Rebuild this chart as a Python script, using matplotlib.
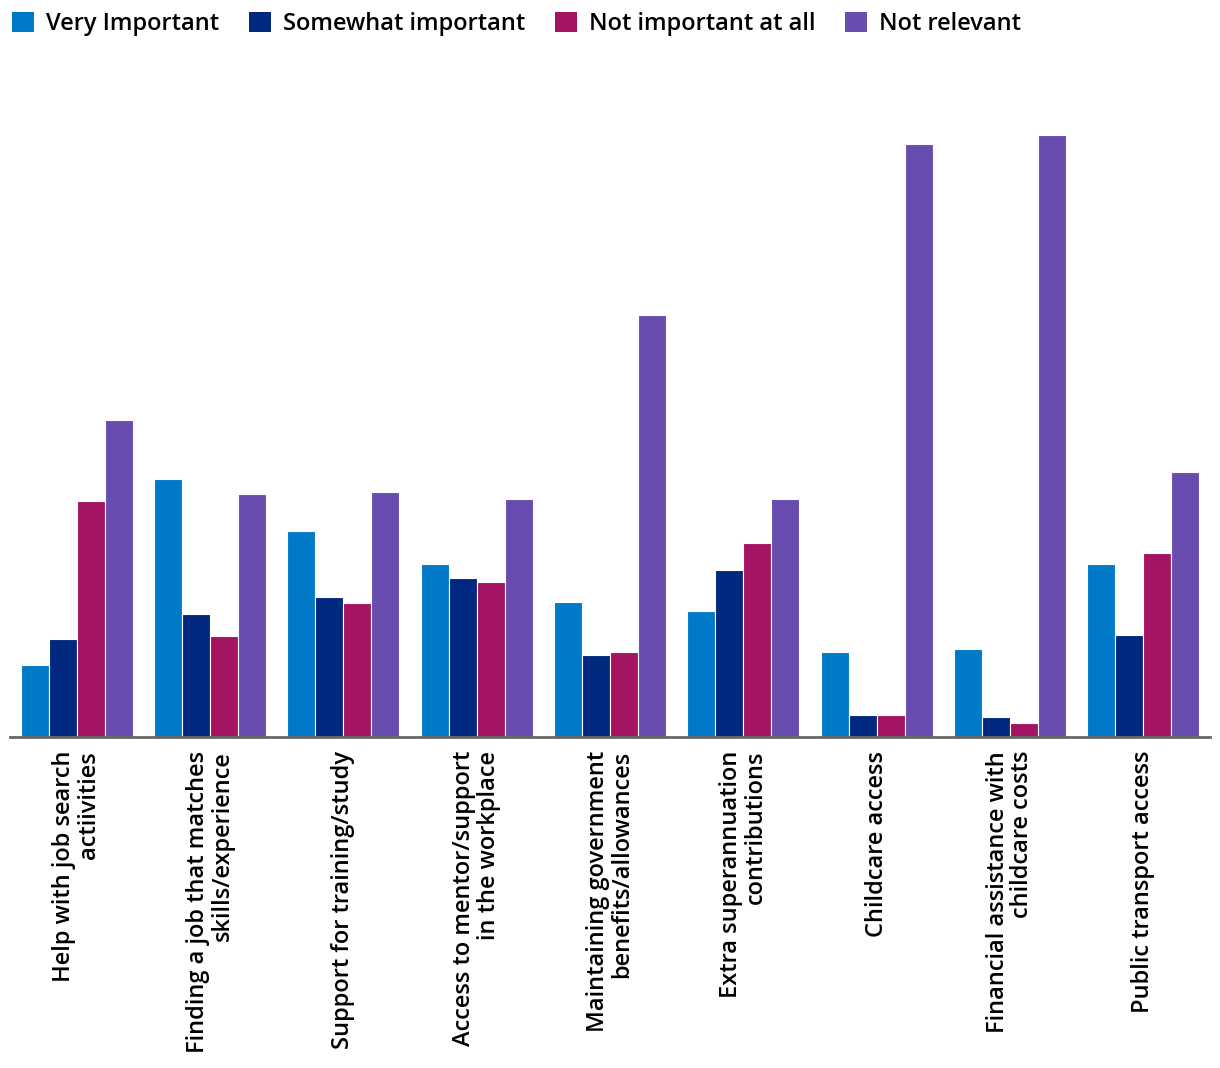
import matplotlib
matplotlib.use("Agg")
import matplotlib.pyplot as plt
from matplotlib.patches import Patch
import numpy as np

plt.rcParams["font.family"] = ["Open Sans", "DejaVu Sans"]

categories = [
    "Help with job search\nactiivities",
    "Finding a job that matches\nskills/experience",
    "Support for training/study",
    "Access to mentor/support\nin the workplace",
    "Maintaining government\nbenefits/allowances",
    "Extra superannuation\ncontributions",
    "Childcare access",
    "Financial assistance with\nchildcare costs",
    "Public transport access",
]
series_names = ["Very Important", "Somewhat important", "Not important at all", "Not relevant"]
very_important = [7.2, 25.7, 20.5, 17.2, 13.4, 12.5, 8.5, 8.8, 17.2]
somewhat_important = [9.8, 12.2, 13.9, 15.8, 8.2, 16.6, 2.2, 2.0, 10.2]
not_important = [23.5, 10.1, 13.3, 15.4, 8.5, 19.3, 2.2, 1.4, 18.3]
not_relevant = [31.6, 24.2, 24.4, 23.7, 42.0, 23.7, 59.0, 59.9, 26.4]
colors = ["#0079C8", "#00287F", "#A51363", "#684CB0"]

series = [very_important, somewhat_important, not_important, not_relevant]

fig = plt.figure(figsize=(12.2, 10.68), dpi=100)
ax = fig.add_axes([10 / 1220, 1 - 737 / 1068, 1200 / 1220, 637 / 1068])

x = np.arange(len(categories))
w = 28 / 133.3
for i, (vals, c) in enumerate(zip(series, colors)):
    ax.bar(x + (i - 1.5) * w, vals, w, color=c, edgecolor="white", linewidth=0.8,
           label=series_names[i])

ax.set_xlim(-0.5, len(categories) - 0.5)
ax.set_ylim(0, 63.4)
ax.set_yticks([])
for s in ["top", "right", "left"]:
    ax.spines[s].set_visible(False)
ax.spines["bottom"].set_color("#666666")
ax.spines["bottom"].set_linewidth(2)
ax.set_xticks(x)
ax.set_xticklabels(categories, rotation=90, fontsize=17, fontweight="semibold",
                   ha="center", va="top", multialignment="right", linespacing=1.05)
ax.tick_params(axis="x", length=0, pad=10)

handles = [Patch(facecolor=c, edgecolor="none") for c in colors]
fig.legend(handles, series_names, loc="upper left", bbox_to_anchor=(0.0, 1.0),
           ncol=4, frameon=False, handlelength=0.95, handleheight=0.95,
           handletextpad=0.5, columnspacing=1.25, borderaxespad=0.1,
           prop={"size": 17, "weight": "semibold"})

fig.savefig("out.png", dpi=100)
